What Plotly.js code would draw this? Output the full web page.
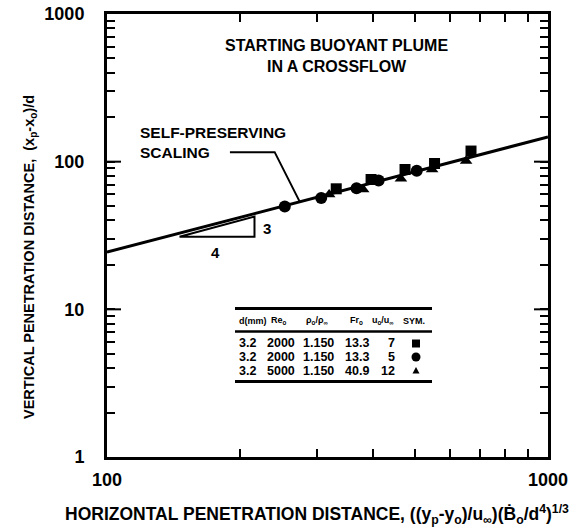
<!DOCTYPE html>
<html>
<head>
<meta charset="utf-8">
<script src="https://cdn.plot.ly/plotly-3.0.1.min.js"></script>
<style>html,body{margin:0;padding:0;background:#fff;}</style>
</head>
<body>
<div id="chart" style="width:581px;height:528px;"></div>
<script>
// Penetration measurements, one pair of arrays per symbol
const squareX = [331, 397, 474, 553, 669];
const squareY = [65.5, 75.7, 88.5, 97.2, 118];
const circleX = [253, 306, 368, 413, 504];
const circleY = [49.7, 56.8, 66.0, 74.6, 86.9];
const triangleX = [319, 381, 464, 546, 652];
const triangleY = [59.9, 64.8, 76.6, 88.5, 101];

// Self-preserving scaling line
const fitX = [100, 1000];
const fitY = [24.4, 147];

// 4:3 slope triangle and the leader from its label
const slopeX = [146, 216, 216, 146];
const slopeY = [31.0, 31.0, 42.5, 31.0];
const leaderX = [190, 240, 273.5];
const leaderY = [116, 116, 53.6];

// Test conditions table
const tableHeader = ['d(mm)', 'Re<sub>o</sub>', 'ρ<sub>o</sub>/ρ<sub>∞</sub>', 'Fr<sub>o</sub>', 'u<sub>o</sub>/u<sub>∞</sub>', 'SYM.'];
const diameters = ['3.2', '3.2', '3.2'];
const reynolds = ['2000', '2000', '5000'];
const densityRatios = ['1.150', '1.150', '1.150'];
const froude = ['13.3', '13.3', '40.9'];
const velocityRatios = ['7', '5', '12'];
const symbolKinds = ['square', 'circle', 'triangle'];

// Axis ticks (labelled decades plus unlabelled intermediate marks)
const xTickVals = [100, 200, 300, 400, 500, 600, 700, 800, 900, 1000];
const xTickText = ['100', '', '', '', '', '', '', '', '', '1000'];
const yTickVals = [1, 2, 3, 4, 5, 6, 7, 8, 9, 10, 20, 30, 40, 50, 60, 70, 80, 90,
                   100, 200, 300, 400, 500, 600, 700, 800, 900, 1000];
const yTickText = ['1', '', '', '', '', '', '', '', '', '10', '', '', '', '', '', '', '', '',
                   '100', '', '', '', '', '', '', '', '', '1000'];
const yLongMarks = [10, 100];

const FAMILY = 'Liberation Sans, Arial, Helvetica, sans-serif';
const L = 107, R = 33, T = 14, B = 71, W = 581, H = 528;
const PW = W - L - R, PH = H - T - B;
// page pixel position -> paper fraction
const px = x => (x - L) / PW;
const py = y => (H - B - y) / PH;

const black = '#000';

const traces = [
  { x: fitX, y: fitY, mode: 'lines', line: { color: black, width: 3 }, hoverinfo: 'skip' },
  { x: slopeX, y: slopeY, mode: 'lines', line: { color: black, width: 2 }, hoverinfo: 'skip' },
  { x: leaderX, y: leaderY, mode: 'lines', line: { color: black, width: 2 }, hoverinfo: 'skip' },
  { x: squareX, y: squareY, mode: 'markers', marker: { symbol: 'square', size: 11, color: black } },
  { x: circleX, y: circleY, mode: 'markers', marker: { symbol: 'circle', size: 12, color: black } },
  { x: triangleX, y: triangleY, mode: 'markers', marker: { symbol: 'triangle-up', size: 11, color: black } }
];

const annotations = [];
const shapes = [];

function note(text, x, y, size, anchor, extra) {
  annotations.push(Object.assign({
    xref: 'paper', yref: 'paper', x: px(x), y: py(y), text: text,
    showarrow: false, xanchor: anchor || 'center', yanchor: 'middle',
    font: { family: FAMILY, size: size, color: black, weight: 'bold' }
  }, extra || {}));
}

// Longer decade marks on both vertical axes
yLongMarks.forEach(v => {
  shapes.push({ type: 'line', xref: 'paper', yref: 'y', y0: v, y1: v,
    xsizemode: 'pixel', xanchor: 0, x0: 0, x1: 14, line: { color: black, width: 2 } });
  shapes.push({ type: 'line', xref: 'paper', yref: 'y', y0: v, y1: v,
    xsizemode: 'pixel', xanchor: 1, x0: 0, x1: -14, line: { color: black, width: 2 } });
});

// Panel title
note('STARTING BUOYANT PLUME<br>IN A CROSSFLOW', 336, 56, 16, 'center');
// Scaling label
note('SELF-PRESERVING<br>SCALING', 138, 142, 15.5, 'left', { align: 'left' });
// Slope triangle labels
note('3', 267, 228, 15, 'center');
note('4', 215, 252, 15, 'center');
// Axis titles
note('VERTICAL PENETRATION DISTANCE,  (x<sub>p</sub>-x<sub>o</sub>)/d', 30, 257, 14.5, 'center', { textangle: -90 });
note('HORIZONTAL PENETRATION DISTANCE, ((y<sub>p</sub>-y<sub>o</sub>)/u<sub>∞</sub>)(Ḃ<sub>o</sub>/d<sup>4</sup>)<sup>1/3</sup>',
     317, 514, 17.5, 'center');

// Table rules
[[308.5, 3], [331.5, 2.5], [381.5, 3]].forEach(([y, w]) => {
  shapes.push({ type: 'line', xref: 'paper', yref: 'paper', x0: px(235), x1: px(432), y0: py(y), y1: py(y),
    line: { color: black, width: w } });
});

// Table header
const headX = [237, 279, 317, 356, 383, 414];
const headAnchor = ['left', 'center', 'center', 'center', 'center', 'center'];
tableHeader.forEach((t, i) => note(t, headX[i], 320.5, 9, headAnchor[i]));

// Table rows with their plotting symbol
const rowY = [343.5, 357, 370.5];
const symX = 416;
function symbolShape(kind, cy) {
  const fill = { xref: 'paper', yref: 'paper', fillcolor: black, line: { color: black, width: 0 } };
  if (kind === 'square') {
    return Object.assign({ type: 'rect', x0: px(symX - 4), x1: px(symX + 4), y0: py(cy + 4), y1: py(cy - 4) }, fill);
  }
  if (kind === 'circle') {
    return Object.assign({ type: 'circle', x0: px(symX - 4.5), x1: px(symX + 4.5), y0: py(cy + 4.5), y1: py(cy - 4.5) }, fill);
  }
  const path = 'M' + px(symX - 3.5) + ',' + py(cy + 3) + ' L' + px(symX + 3.5) + ',' + py(cy + 3) +
               ' L' + px(symX) + ',' + py(cy - 3.5) + ' Z';
  return Object.assign({ type: 'path', path: path }, fill);
}
for (let r = 0; r < diameters.length; r++) {
  note(diameters[r], 237, rowY[r], 12.5, 'left');
  note(reynolds[r], 281, rowY[r], 12.5, 'center');
  note(densityRatios[r], 318, rowY[r], 12.5, 'center');
  note(froude[r], 357, rowY[r], 12.5, 'center');
  note(velocityRatios[r], 397, rowY[r], 12.5, 'right');
  shapes.push(symbolShape(symbolKinds[r], rowY[r]));
}

const tickFont = { family: FAMILY, size: 18, color: black, weight: 'bold' };

const layout = {
  width: W, height: H,
  margin: { l: L, r: R, t: T, b: B, pad: 0 },
  paper_bgcolor: '#fff', plot_bgcolor: '#fff',
  showlegend: false,
  xaxis: {
    type: 'log', range: [2, 3], showgrid: false, zeroline: false,
    showline: true, linecolor: black, linewidth: 3, mirror: 'allticks',
    tickmode: 'array', tickvals: xTickVals, ticktext: xTickText,
    ticks: 'inside', ticklen: 8, tickwidth: 2, tickcolor: black,
    tickfont: tickFont, ticklabelstandoff: 4
  },
  yaxis: {
    type: 'log', range: [0, 3], showgrid: false, zeroline: false,
    showline: true, linecolor: black, linewidth: 3, mirror: 'allticks',
    tickmode: 'array', tickvals: yTickVals, ticktext: yTickText,
    ticks: 'inside', ticklen: 8, tickwidth: 2, tickcolor: black,
    tickfont: tickFont, ticklabelstandoff: 16
  },
  annotations: annotations,
  shapes: shapes
};

Plotly.newPlot('chart', traces, layout, { staticPlot: true, displayModeBar: false });
</script>
</body>
</html>
